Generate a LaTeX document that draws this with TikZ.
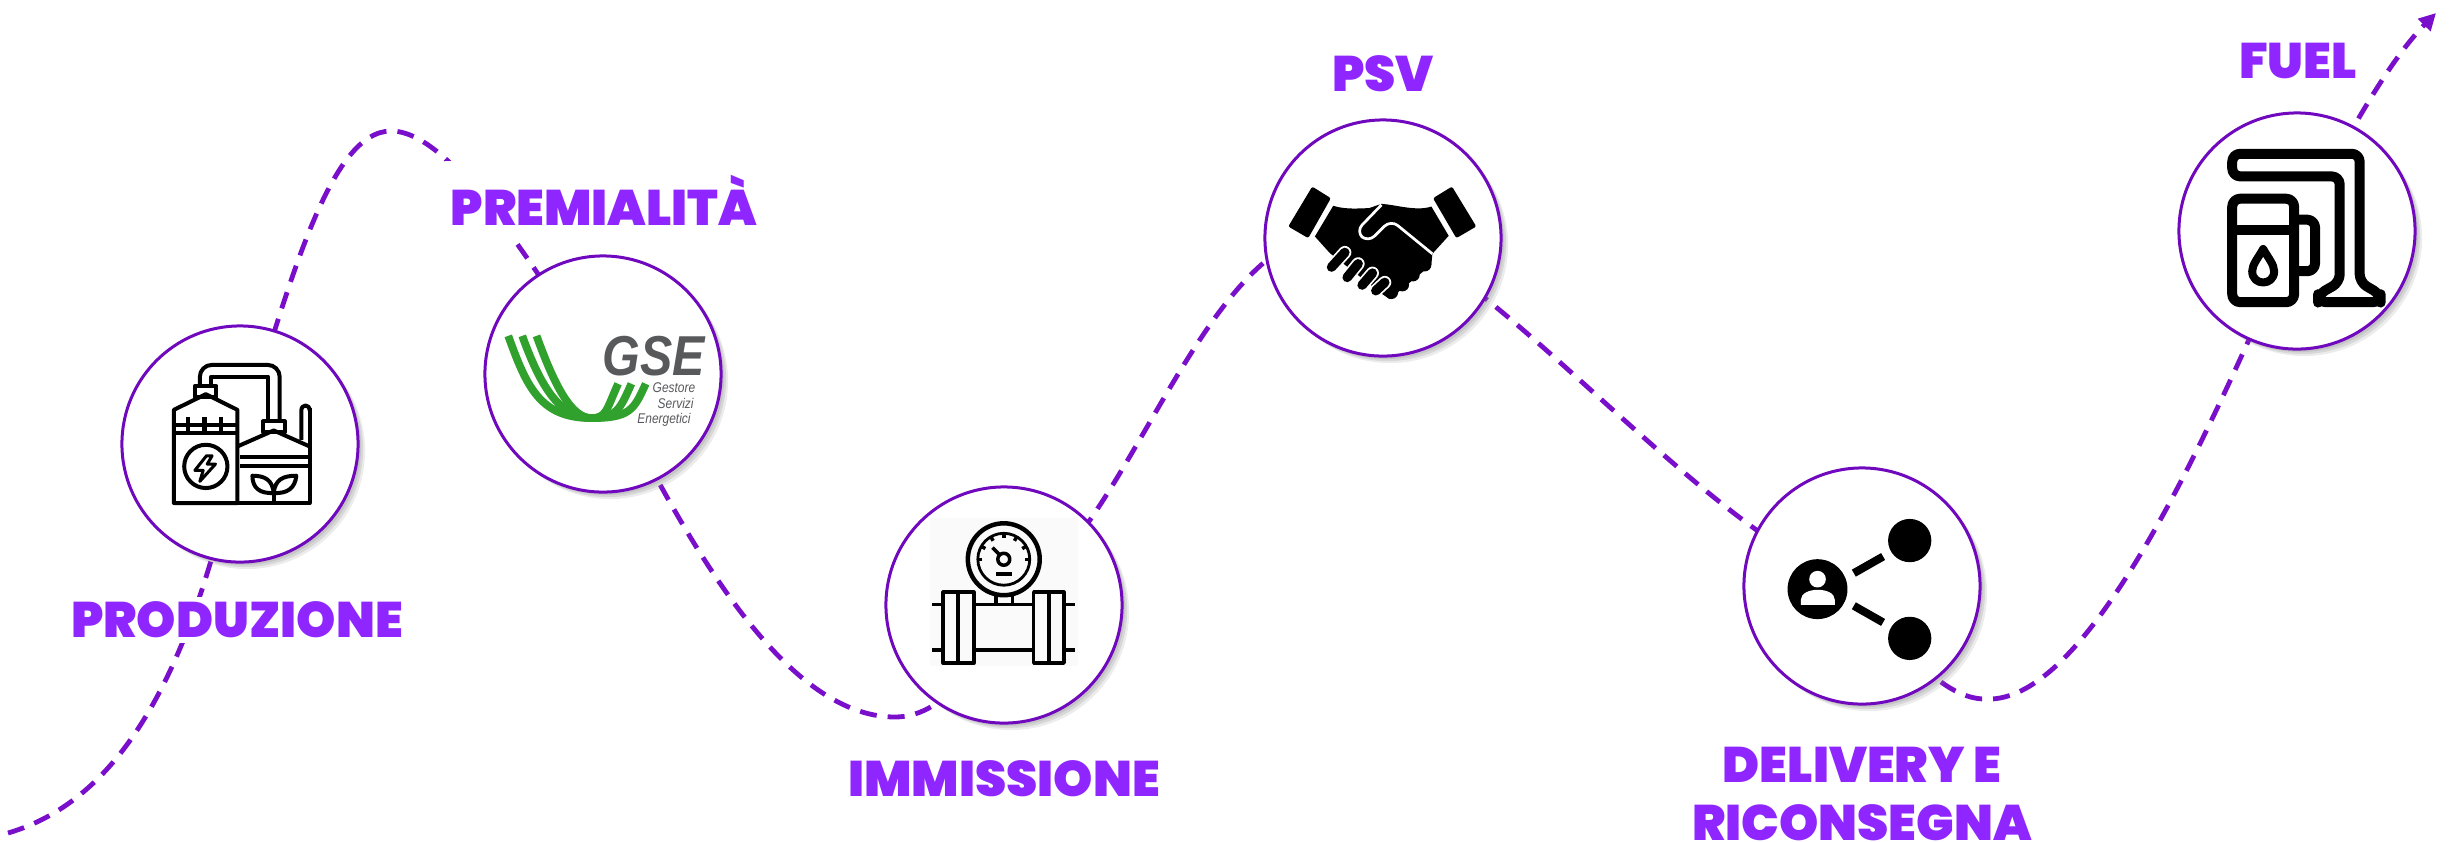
\documentclass[tikz,border=0pt]{standalone}
\usepackage{fontspec}
\usetikzlibrary{arrows.meta, backgrounds, shadows}
\setmainfont{Liberation Sans}
\newfontfamily\etichettafont[UprightFont=* Black]{Poppins}
\definecolor{linea}{HTML}{7A0FCB}
\definecolor{bordo}{HTML}{7008BE}
\definecolor{testo}{HTML}{8F26FF}
\definecolor{verdeGSE}{HTML}{2FA12C}
\definecolor{grigioGSE}{HTML}{58595B}

\begin{document}
\begin{tikzpicture}[
	x=0.01cm, y=-0.01cm,
	tappa/.style={circle, draw=bordo, fill=white, line width=.03cm, minimum size=2.36cm, inner sep=0pt,
		drop shadow={shadow xshift=.03cm, shadow yshift=-.03cm, opacity=.2},
		drop shadow={shadow xshift=.05cm, shadow yshift=-.05cm, opacity=.2},
		drop shadow={shadow xshift=.07cm, shadow yshift=-.07cm, opacity=.15}},
	etichetta/.style={font=\etichettafont\fontsize{14.2}{16.5}\selectfont, text=testo, fill=white, align=center, inner sep=1.5pt},
	logotesto/.style={text=grigioGSE, font=\itshape\fontsize{4}{4}\selectfont, xscale=.85, inner sep=0pt},
	percorso/.style={draw=linea, line width=.048cm, dash pattern=on .17cm off .11cm},
	icona/.style={x=0.00333cm, y=-0.00333cm, line join=round},
	]
	\useasboundingbox (0,0) rectangle (2453,841);
	
	% Tappe
	\node[tappa] (Produzione) at (240,444) {};
	\node[tappa] (GSE) at (603,374) {};
	\node[tappa] (Immissione) at (1004,605) {};
	\node[tappa] (PSV) at (1383,238) {};
	\node[tappa] (Delivery) at (1862,586) {};
	\node[tappa] (Fuel) at (2297,231) {};
	
	% Etichette
	\node[etichetta] (LProduzione) at (237,620) {PRODUZIONE};
	\node[etichetta, inner ysep=4pt] (LPremialita) at (604,200) {PREMIALITÀ};
	\node[etichetta] (LImmissione) at (1004,779) {IMMISSIONE};
	\node[etichetta] (LPSV) at (1383,74) {PSV};
	\node[etichetta] (LDelivery) at (1862,794) {DELIVERY E\\RICONSEGNA};
	\node[etichetta] (LFuel) at (2298,61) {FUEL};
	
	% Percorso
	\coordinate (Inizio) at (8,833);
	\coordinate (Cima) at (391,131);
	\coordinate (Valle) at (895,717);
	\coordinate (Fondo) at (1985,699);
	\coordinate (Fine) at (2436,13);
	\begin{scope}[on background layer]
		\draw[percorso, -{Triangle[length=.17cm, width=.17cm]}] (Inizio)
		.. controls (120,800) and (192,675) .. (Produzione.center)
		.. controls (290,280) and (330,131) .. (Cima)
		.. controls (450,131) and (530,260) .. (GSE.center)
		.. controls (680,530) and (780,717) .. (Valle)
		.. controls (950,717) and (985,650) .. (Immissione.center)
		.. controls (1140,540) and (1210,170) .. (PSV.center)
		.. controls (1490,260) and (1720,550) .. (Delivery.center)
		.. controls (1900,650) and (1945,699) .. (Fondo)
		.. controls (2090,705) and (2210,430) .. (Fuel.center)
		.. controls (2330,170) and (2380,70) .. (Fine);
	\end{scope}
	
	% Impianto
	\begin{scope}[shift={(100,300)}, icona, line width=.04cm]
		\draw (222,610) -- (222,330) -- (318,283) -- (413,330) -- (413,610) -- cycle;
		\draw (222,375) -- (413,375) (222,400) -- (413,400);
		\foreach \x in {264,314,363} \draw (\x,352) -- (\x,400);
		\draw (318,500) circle (65);
		\draw[line width=.03cm] (320,468) -- (285,512) -- (310,512) -- (300,545) -- (347,493) -- (322,493) -- (337,468) -- cycle;
		\draw (285,258) rectangle (350,290);
		\draw[rounded corners=.12cm] (300,258) -- (300,195) -- (540,195) -- (540,365);
		\draw (335,258) -- (335,230) -- (505,230) -- (505,365);
		\draw (413,440) -- (522,392) -- (630,440);
		\draw (630,325) -- (630,610) -- (413,610);
		\draw (420,472) -- (630,472) (420,498) -- (630,498);
		\draw (490,365) rectangle (555,398);
		\draw (605,420) -- (605,332) .. controls (605,312) and (630,312) .. (630,332);
		\draw (522,610) -- (522,575);
		\draw (522,580) .. controls (518,540) and (495,528) .. (458,528) .. controls (458,565) and (480,582) .. (522,580);
		\draw (522,580) .. controls (526,540) and (549,528) .. (590,528) .. controls (586,565) and (564,582) .. (522,580);
	\end{scope}
	
	% Logo GSE
	\begin{scope}[shift={(460,240)}, icona]
		\foreach \xa/\xb/\xc/\xd in {145/240/510/558, 187/300/470/515, 230/335/440/475}
		\draw[verdeGSE, line width=.078cm] (\xa,288) .. controls (\xa+55,440) and (\xb,535) .. (395,535) .. controls (\xc,535) and (\xd-35,510) .. (\xd,432);
		\node[text=grigioGSE, font=\bfseries\itshape\fontsize{16}{16}\selectfont, xscale=.86, inner sep=0pt] (GSEsigla) at (583,348) {GSE};
		\node[logotesto] (GSEa) at (643,445) {Gestore};
		\node[logotesto] (GSEb) at (648,492) {Servizi};
		\node[logotesto] (GSEc) at (613,540) {Energetici};
	\end{scope}
	
	% Misuratore
	\begin{scope}[shift={(870,500)}, icona, line width=.035cm]
		\fill[black!2] (180,55) rectangle (625,500);
		\draw[line width=.045cm] (402,178) circle (108);
		\draw[line width=.028cm] (402,178) circle (78);
		\foreach \a in {-150,-120,...,-30,0,180} \draw (402,178) ++(\a:64) -- ++(\a:14);
		\draw (402,178) circle (18);
		\draw (390,165) -- (368,143);
		\draw (378,222) -- (428,222);
		\draw (378,285) -- (378,314) (428,285) -- (428,314);
		\draw (220,277) rectangle (312,490) (265,277) -- (265,490);
		\draw (492,277) rectangle (583,490) (538,277) -- (538,490);
		\foreach \y in {314,450} \draw (187,\y) -- (220,\y) (312,\y) -- (492,\y) (583,\y) -- (617,\y);
	\end{scope}
	
	% Stretta di mano
	\begin{scope}[shift={(1250,110)}, icona]
		\fill[rounded corners=.02cm] (187,230) -- (243,265) -- (175,385) -- (115,350) -- cycle;
		\fill[rounded corners=.02cm] (607,230) -- (550,265) -- (620,385) -- (680,350) -- cycle;
		\fill (250,288) .. controls (290,300) and (330,295) .. (357,295) -- (395,282) .. controls (440,285) and (500,305) .. (545,290)
		-- (597,378) -- (548,432) -- (545,465) -- (420,568) -- (400,555) -- (240,430) -- (195,380) -- cycle;
		\foreach \x/\y/\r in {525/465/20, 490/495/20, 458/525/20, 425/548/20} \fill (\x,\y) circle (\r);
		\draw[white, line width=.027cm, rounded corners=.09cm] (395,285) -- (318,365) -- (355,398) -- (423,330) -- (548,432);
		\foreach \xa/\ya/\xb/\yb in {245/472/285/428, 292/503/325/462, 337/526/368/490, 378/543/405/518} {
			\draw[white, line width=.13cm, line cap=round] (\xa,\ya) -- (\xb,\yb);
			\draw[line width=.095cm, line cap=round] (\xa,\ya) -- (\xb,\yb);
		}
	\end{scope}
	
	% Condivisione
	\begin{scope}[shift={(1730,460)}, icona]
		\fill (263,388) circle (90);
		\fill[white] (263,358) circle (25);
		\fill[white] (213,435) -- (213,420) .. controls (213,380) and (315,380) .. (315,420) -- (315,435) -- cycle;
		\fill (540,242) circle (65) (540,536) circle (65);
		\draw[line width=.08cm] (372,340) -- (460,290) (372,438) -- (460,488);
	\end{scope}
	
	% Distributore
	\begin{scope}[shift={(2160,0)}, icona, line width=.1cm]
		\draw[rounded corners=.08cm] (217,530) -- (217,462) -- (600,462) -- (600,848) -- (663,885) -- (663,908) -- (475,908) -- (475,885) -- (540,848) -- (540,530) -- cycle;
		\draw[rounded corners=.08cm] (217,597) rectangle (403,908);
		\draw (217,690) -- (403,690);
		\draw[rounded corners=.08cm] (403,660) -- (466,660) -- (466,815) -- (403,815);
		\draw[line width=.08cm] (310,748) .. controls (295,775) and (277,795) .. (277,815) .. controls (277,860) and (343,860) .. (343,815) .. controls (343,795) and (325,775) .. (310,748) -- cycle;
	\end{scope}
	
\end{tikzpicture}
\end{document}
